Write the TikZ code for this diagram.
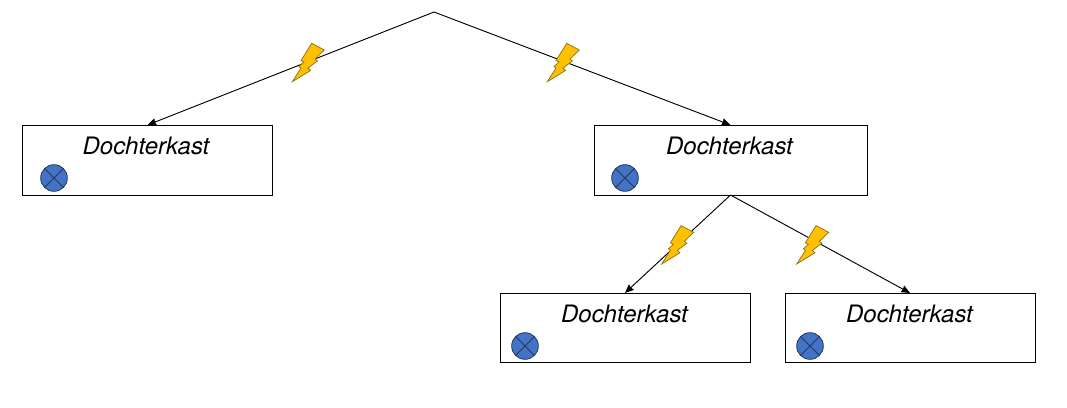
\documentclass[tikz,border=0pt]{standalone}
\usepackage{fontspec}
\setmainfont{TeX Gyre Heros}
\usetikzlibrary{arrows.meta}
\definecolor{boltfill}{HTML}{FFC000}
\definecolor{boltline}{HTML}{8F7414}
\definecolor{dotfill}{HTML}{4472C4}
\definecolor{dotline}{HTML}{1F3864}
\tikzset{
  x=0.75pt,y=-0.75pt,
  boxnode/.style={draw=black,line width=0.75pt,fill=white,minimum height=52.5pt,inner sep=0pt,outer sep=0pt},
  lowbox/.style={boxnode,minimum height=51.75pt},
  labelnode/.style={font=\itshape\fontsize{18}{20}\selectfont,inner sep=0pt,anchor=base},
  dotnode/.style={circle,draw=dotline,fill=dotfill,line width=0.6pt,minimum size=20pt,inner sep=0pt,
    path picture={\draw[dotline,line width=0.6pt] (path picture bounding box.north west)--(path picture bounding box.south east)
      (path picture bounding box.north east)--(path picture bounding box.south west);}},
  link/.style={draw=black,line width=0.7pt,-{Stealth[length=6.5pt,width=5.5pt,inset=0.5pt]}},
  boltshape/.style={draw=boltline,fill=boltfill,line width=0.55pt,line join=miter},
}
\newcommand{\boltat}[2]{\draw[boltshape,shift={(#1,#2)}] (31.7,13.3)--(44.3,20)--(35,29)--(37.5,31)--(28,38)--(30.5,40.5)--(12.3,51.7)--(21,38)--(19,36.5)--(24,32)--(21,30.5)--cycle;}
\begin{document}
\begin{tikzpicture}
\useasboundingbox (0,0) rectangle (1067,407);
\coordinate (apex) at (434,12);
\node[boxnode,minimum width=187.5pt] (b1) at (147.5,160) {};
\node[boxnode,minimum width=204.75pt] (b2) at (730.5,160) {};
\node[lowbox,minimum width=187.5pt] (b3) at (625,327.5) {};
\node[lowbox,minimum width=187.5pt] (b4) at (910,327.5) {};
\node[labelnode] (t1) at (146,154) {Dochterkast};
\node[labelnode] (t2) at (729.5,154) {Dochterkast};
\node[labelnode] (t3) at (624.5,322) {Dochterkast};
\node[labelnode] (t4) at (909.5,322) {Dochterkast};
\node[dotnode] (d1) at (54,178) {};
\node[dotnode] (d2) at (625,178) {};
\node[dotnode] (d3) at (525,346) {};
\node[dotnode] (d4) at (810,346) {};
\draw[link] (apex) -- (b1.north);
\draw[link] (apex) -- (b2.north);
\draw[link] (b2.south) -- (b3.north);
\draw[link] (b2.south) -- (b4.north);
\boltat{280}{30}
\boltat{535}{30}
\boltat{649.4}{212.3}
\boltat{784.4}{212.3}
\end{tikzpicture}
\end{document}
